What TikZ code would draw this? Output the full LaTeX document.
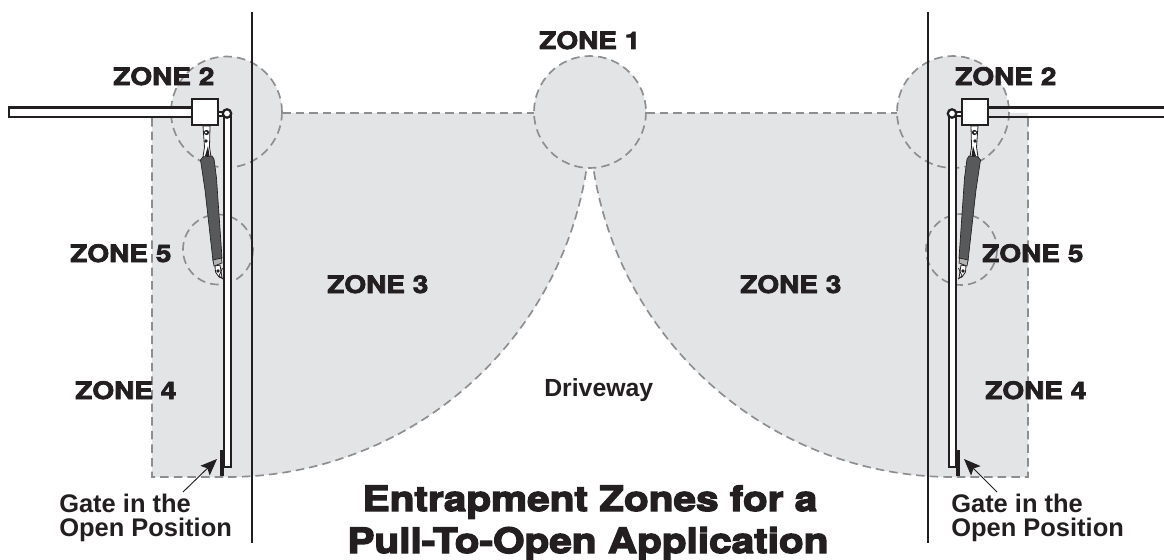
\documentclass[tikz,border=0pt]{standalone}
\usepackage{fontspec}
\usetikzlibrary{arrows.meta}
\setmainfont{Liberation Sans}
\newfontfamily\zonefont[FakeStretch=1.16,FakeBold=3]{TeX Gyre Heros Bold}
\newfontfamily\titlefont[FakeStretch=1.16,FakeBold=3.8]{TeX Gyre Heros Bold}
\definecolor{zonegrey}{HTML}{E3E4E6}
\definecolor{dashgrey}{HTML}{8E8E90}
\definecolor{ink}{HTML}{231F20}
\definecolor{bodygrey}{HTML}{58595B}
\tikzset{
  x=0.75pt,y=-0.75pt,
  zonefill/.style={fill=zonegrey,draw=none},
  zonedash/.style={draw=dashgrey,line width=1.25pt,dash pattern=on 6.4pt off 3.8pt},
  zonelabel/.style={font=\zonefont\fontsize{18.1}{20}\selectfont,text=ink,inner sep=0pt,anchor=base west},
  notelabel/.style={font=\bfseries\fontsize{19.1}{18}\selectfont,text=ink,inner sep=0pt,anchor=base west},
  drivelabel/.style={font=\bfseries\fontsize{18.6}{18}\selectfont,text=ink,inner sep=0pt,anchor=base west},
  titlelabel/.style={font=\titlefont\fontsize{26.2}{30}\selectfont,text=ink,inner sep=0pt,anchor=base},
  post/.style={draw=ink,line width=1.7pt},
  gatepart/.style={draw=ink,line width=1.7pt,fill=white},
  barpart/.style={draw=none,fill=ink},
  bodypart/.style={draw=ink,line width=.5pt,fill=bodygrey},
  linkpart/.style={draw=ink,line width=.6pt,fill=white},
  collar/.style={draw=ink,line width=.5pt,fill=gray!60},
  pointer/.style={draw=ink,line width=.7pt,-{Stealth[length=12.5pt,width=10pt,inset=2.5pt]}},
}
\newcommand{\actuatorshape}{%
  \draw[linkpart] (203,126) -- (210,126) -- (209.5,147) -- (211,157) -- (203,157) -- (204.5,147) -- cycle;
  \fill[ink] (206.5,132.5) circle[radius=2.6];
  \fill[white] (206,132.5) circle[radius=1.2];
  \fill[ink] (206,141) circle[radius=1.8];
  \fill[ink] (205,156) -- (208,146) -- (209.5,156) -- cycle;
  \draw[bodypart] (200.5,160) -- (203,157) -- (212,156) -- (214,159) -- (216.5,178) -- (222,258) -- (213,261) -- (205,190) -- cycle;
  \draw[collar] (213,260) -- (221.5,258) -- (222,263) -- (214,266) -- cycle;
  \draw[linkpart] (215,266) -- (220,265) -- (222,278) -- (219,277) -- (215.5,272) -- cycle;
  \fill[ink] (218,271) circle[radius=1.8];
  \draw[ink,line width=.6pt] (222.5,268) -- (219,276) -- (223,279);
}
\begin{document}
\begin{tikzpicture}
\useasboundingbox (0,0) rectangle (1164,560);
% shaded zones
\path[zonefill] (152,113) -- (590,113) -- (586.5,170) arc[start angle=9,end angle=89.5,radius=364] -- (152,477) -- cycle;
\path[zonefill] (1028,113) -- (590,113) -- (593.5,170) arc[start angle=171,end angle=90.5,radius=364] -- (1028,477) -- cycle;
\path[zonefill] (226.5,112) circle[radius=55.5];
\path[zonefill] (590,112) circle[radius=56];
\path[zonefill] (953,112) circle[radius=56];
% dashed outlines
\draw[zonedash] (152,118) -- (152,477) -- (230,477) arc[start angle=89.5,end angle=9,radius=364];
\draw[zonedash] (1028,118) -- (1028,477) -- (950,477) arc[start angle=90.5,end angle=171,radius=364];
\draw[zonedash] (282,113) -- (534,113);
\draw[zonedash] (646,113) -- (897,113);
\draw[zonedash] (226.5,112) circle[radius=55.5];
\draw[zonedash] (590,112) circle[radius=56];
\draw[zonedash] (953,112) circle[radius=56];
\draw[zonedash] (218,249.5) circle[radius=35];
\draw[zonedash] (961.5,249.5) circle[radius=35.5];
% posts
\draw[post] (252,12) -- (252,543);
\draw[post] (928,12) -- (928,543);
% left gate
\draw[gatepart] (9,107.5) rectangle (192,117);
\draw[gatepart] (218,112) rectangle (224,116);
\draw[gatepart] (224,114) rectangle (231,467);
\path[barpart] (220,450) rectangle (224,476);
\draw[gatepart] (192,99) rectangle (218,125);
\draw[gatepart] (227,113.5) circle[radius=4.2];
\actuatorshape
% right gate
\draw[gatepart] (988,107.5) -- (1164,107.5);
\draw[gatepart] (1164,117) -- (988,117);
\draw[gatepart] (956,112) rectangle (962,116);
\draw[gatepart] (949,114) rectangle (956,467);
\path[barpart] (956,450) rectangle (959.5,476);
\draw[gatepart] (962,99) rectangle (988,125);
\draw[gatepart] (952,113.5) circle[radius=4.2];
\begin{scope}[xshift=885.75pt,xscale=-1]
\actuatorshape
\end{scope}
% labels
\node[zonelabel] (zoneOne) at (539,49) {ZONE 1};
\node[zonelabel] (zoneTwoL) at (113,85) {ZONE 2};
\node[zonelabel] (zoneTwoR) at (955,85) {ZONE 2};
\node[zonelabel] (zoneThreeL) at (327,293) {ZONE 3};
\node[zonelabel] (zoneThreeR) at (740,293) {ZONE 3};
\node[zonelabel] (zoneFourL) at (75,399) {ZONE 4};
\node[zonelabel] (zoneFourR) at (985,399) {ZONE 4};
\node[zonelabel] (zoneFiveL) at (70,262) {ZONE 5};
\node[zonelabel] (zoneFiveR) at (982,262) {ZONE 5};
\node[drivelabel] (driveway) at (544,396) {Driveway};
\node[notelabel] (gateL) at (59,512) {Gate in the};
\node[notelabel] (openL) at (59,536) {Open Position};
\node[notelabel] (gateR) at (951,512) {Gate in the};
\node[notelabel] (openR) at (951,536) {Open Position};
\node[titlelabel] (titleA) at (590,511) {Entrapment Zones for a};
\node[titlelabel] (titleB) at (588,553) {Pull-To-Open Application};
% pointers
\coordinate (tailL) at (183,492);
\coordinate (tipL) at (217,459);
\coordinate (tailR) at (997,492);
\coordinate (tipR) at (964,459);
\draw[pointer] (tailL) -- (tipL);
\draw[pointer] (tailR) -- (tipR);
\end{tikzpicture}
\end{document}
